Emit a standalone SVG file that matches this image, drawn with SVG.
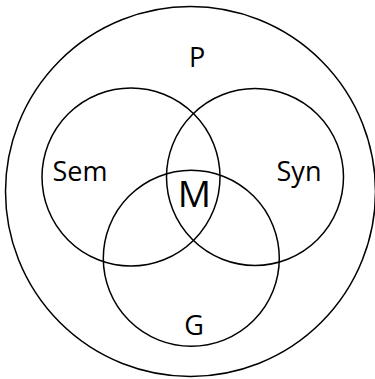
<svg xmlns="http://www.w3.org/2000/svg" width="375" height="379" viewBox="0 0 375 379">
<style>
circle{fill:none;stroke:#000;stroke-width:1.5}
text{font-family:"Open Sans","DejaVu Sans",sans-serif;fill:#000;text-anchor:middle;font-weight:500}
.l{font-size:27px}
.m{font-size:37px}
</style>
<rect width="375" height="379" fill="#fff"/>
<g id="P"><circle cx="190.5" cy="191.5" r="185"/><text class="l" x="197" y="67">P</text></g>
<g id="Sem"><circle cx="131" cy="177" r="89"/><text class="l" x="80" y="181">Sem</text></g>
<g id="Syn"><circle cx="255" cy="177" r="88.5"/><text class="l" x="299" y="181">Syn</text></g>
<g id="G"><circle cx="191.3" cy="258.3" r="88"/><text class="l" x="194" y="335">G</text></g>
<g id="M"><text class="m" x="194.5" y="207">M</text></g>
<g id="connectors"/>
</svg>
